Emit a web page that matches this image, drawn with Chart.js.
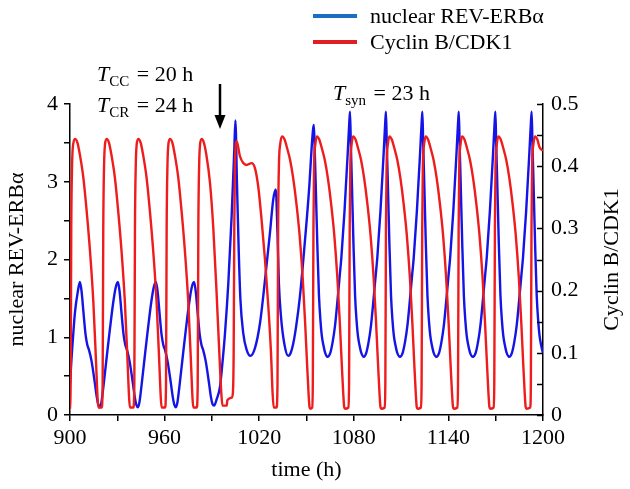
<!DOCTYPE html>
<html>
<head>
<meta charset="utf-8">
<script src="https://cdn.jsdelivr.net/npm/chart.js@4.4.1/dist/chart.umd.min.js"></script>
<style>
  html, body { margin: 0; padding: 0; background: #fff; }
  canvas { display: block; }
</style>
</head>
<body>
<canvas id="clockChart" width="630" height="489"></canvas>
<script>
// nuclear REV-ERBα (left axis), time in h
const revTime = [
  900, 901.1, 902.2, 903.2, 904.9, 906.3, 907.4, 908.5, 909.9, 911.0, 912.0, 913.7, 915.0, 915.9, 917.0, 918.0, 919.0, 920.0, 921.1, 923.2, 925.4, 927.5, 929.0,
  930.4, 931.5, 932.6, 934.0, 935.1, 936.1, 937.8, 939.1, 940.0, 941.1, 942.1, 943.1, 944.1, 945.2, 947.3, 949.5, 951.6, 953.1,
  954.5, 955.6, 956.7, 958.1, 959.2, 960.2, 961.9, 963.2, 964.1, 965.2, 966.2, 967.2, 968.2, 969.3, 971.4, 973.6, 975.7, 977.2,
  978.7, 979.8, 980.9, 982.3, 983.4, 984.4, 986.1, 987.4, 988.3, 989.4, 990.4, 991.4, 993.0, 995.1, 996.6, 998.3, 1000.4, 1002.5, 1004.2,
  1004.9, 1005.9, 1007.0, 1008.1, 1009.9, 1012.0, 1014.4, 1017.3, 1020.5, 1023.7, 1026.8, 1028.9,
  1030.5, 1031.6, 1032.5, 1033.8, 1035.9, 1038.4, 1040.0, 1041.6, 1043.5, 1045.8, 1048.0, 1050.1, 1051.8, 1053.3, 1054.2,
  1054.7, 1055.3, 1055.8, 1056.9, 1057.9, 1058.9, 1059.7, 1060.7, 1061.7, 1063.3,
  1065.1, 1066.6, 1068.1, 1069.6, 1071.1, 1072.1, 1074.1, 1076.1, 1077.1,
  1077.6, 1078.1, 1078.7, 1079.8, 1080.8, 1081.8, 1082.6, 1083.6, 1084.6, 1086.3,
  1087.9, 1089.4, 1090.9, 1092.4, 1093.9, 1094.9, 1096.9, 1098.9, 1099.9,
  1100.4, 1100.9, 1101.5, 1102.6, 1103.6, 1104.6, 1105.4, 1106.4, 1107.4, 1109.3,
  1111.0, 1112.5, 1114.0, 1115.5, 1117.0, 1118.0, 1120.0, 1122.0, 1123.0,
  1123.5, 1124.0, 1124.6, 1125.7, 1126.7, 1127.7, 1128.5, 1129.5, 1130.5, 1132.4,
  1134.1, 1135.6, 1137.1, 1138.6, 1140.1, 1141.1, 1143.1, 1145.1, 1146.1,
  1146.6, 1147.1, 1147.7, 1148.8, 1149.8, 1150.8, 1151.6, 1152.6, 1153.6, 1155.5,
  1157.3, 1158.8, 1160.3, 1161.8, 1163.3, 1164.3, 1166.3, 1168.3, 1169.3,
  1169.8, 1170.3, 1170.9, 1172.0, 1173.0, 1174.0, 1174.8, 1175.8, 1176.8, 1178.6,
  1180.3, 1181.8, 1183.3, 1184.8, 1186.3, 1187.3, 1189.3, 1191.3, 1192.3,
  1192.8, 1193.3, 1193.9, 1195.0, 1196.0, 1197.0, 1197.8, 1198.8, 1199.8, 1200
];
const revLevel = [
  0.40, 0.77, 1.08, 1.33, 1.58, 1.71, 1.58, 1.33, 1.03, 0.90, 0.84, 0.69, 0.52, 0.39, 0.23, 0.13, 0.10, 0.17, 0.35, 0.73, 1.12, 1.46, 1.64,
  1.71, 1.58, 1.33, 1.03, 0.90, 0.84, 0.69, 0.52, 0.39, 0.23, 0.13, 0.10, 0.17, 0.35, 0.73, 1.12, 1.46, 1.64,
  1.71, 1.58, 1.33, 1.03, 0.90, 0.84, 0.69, 0.52, 0.39, 0.23, 0.13, 0.10, 0.17, 0.35, 0.73, 1.12, 1.46, 1.64,
  1.71, 1.58, 1.33, 1.03, 0.90, 0.84, 0.69, 0.52, 0.39, 0.23, 0.14, 0.12, 0.20, 0.36, 0.65, 1.05, 1.69, 2.55, 3.41,
  3.79, 2.98, 2.12, 1.48, 1.05, 0.84, 0.76, 0.86, 1.18, 1.74, 2.34, 2.77,
  2.90, 2.34, 1.69, 1.27, 0.92, 0.76, 0.80, 0.92, 1.15, 1.52, 2.00, 2.50, 2.95, 3.45, 3.68,
  3.73, 3.35, 3.00, 2.17, 1.54, 1.20, 1.02, 0.90, 0.81, 0.75,
  0.80, 0.94, 1.15, 1.46, 1.80, 2.02, 2.62, 3.35, 3.75,
  3.90, 3.50, 3.05, 2.19, 1.54, 1.20, 1.02, 0.90, 0.81, 0.75,
  0.80, 0.94, 1.15, 1.46, 1.80, 2.02, 2.62, 3.35, 3.75,
  3.90, 3.50, 3.05, 2.19, 1.54, 1.20, 1.02, 0.90, 0.81, 0.75,
  0.80, 0.94, 1.15, 1.46, 1.80, 2.02, 2.62, 3.35, 3.75,
  3.90, 3.50, 3.05, 2.19, 1.54, 1.20, 1.02, 0.90, 0.81, 0.75,
  0.80, 0.94, 1.15, 1.46, 1.80, 2.02, 2.62, 3.35, 3.75,
  3.90, 3.50, 3.05, 2.19, 1.54, 1.20, 1.02, 0.90, 0.81, 0.75,
  0.80, 0.94, 1.15, 1.46, 1.80, 2.02, 2.62, 3.35, 3.75,
  3.90, 3.50, 3.05, 2.19, 1.54, 1.20, 1.02, 0.90, 0.81, 0.75,
  0.80, 0.94, 1.15, 1.46, 1.80, 2.02, 2.62, 3.35, 3.75,
  3.90, 3.50, 3.05, 2.19, 1.54, 1.20, 1.02, 0.90, 0.81, 0.80
];

// Cyclin B/CDK1 (right axis)
const cycTime = [
  900, 900.4, 900.8, 901.3, 902.0,
  903.2, 904.7, 906.3, 908.5, 910.6, 912.7, 914.8, 916.5, 917.5, 918.0, 920.1, 920.7, 921.1, 921.6, 922.2,
  923.2, 924.7, 926.3, 928.5, 930.6, 932.7, 934.8, 936.5, 937.5, 938.0, 940.2, 940.8, 941.2, 941.7, 942.3,
  943.3, 944.8, 946.4, 948.6, 950.7, 952.8, 954.9, 956.6, 957.6, 958.1, 960.3, 960.9, 961.3, 961.8, 962.4,
  963.4, 964.9, 966.5, 968.7, 970.8, 972.9, 975.0, 976.7, 977.7, 978.2, 980.4, 981.0, 981.4, 981.9, 982.5,
  983.5, 984.9, 986.5, 988.8, 990.9, 993.0, 995.1, 996.1, 996.7, 999.4, 999.8, 1002.6, 1003.3, 1003.8, 1004.2, 1004.6,
  1005.7, 1007.8, 1009.9, 1012.0, 1015.2, 1017.3, 1019.4, 1021.5, 1023.7, 1025.8, 1027.5, 1028.5, 1029.2, 1031.0, 1031.6, 1032.0, 1032.5, 1033.3,
  1034.6, 1036.1, 1037.6, 1039.6, 1041.6, 1043.6, 1045.6, 1047.6, 1049.1, 1050.4, 1051.3, 1051.9, 1052.4, 1053.6, 1054.0, 1054.4, 1054.8, 1055.6,
  1056.6, 1058.1, 1059.6, 1061.6, 1063.6, 1065.6, 1067.6, 1069.6, 1071.1, 1072.4, 1073.3, 1073.9, 1074.4, 1076.6, 1077.0, 1077.4, 1077.8, 1078.6,
  1079.6, 1081.1, 1082.6, 1084.6, 1086.6, 1088.6, 1090.6, 1092.6, 1094.1, 1095.4, 1096.3, 1096.9, 1097.4, 1099.6, 1100.0, 1100.4, 1100.8, 1101.6,
  1102.6, 1104.1, 1105.6, 1107.6, 1109.6, 1111.6, 1113.6, 1115.6, 1117.1, 1118.4, 1119.3, 1119.9, 1120.4, 1122.6, 1123.0, 1123.4, 1123.8, 1124.6,
  1125.6, 1127.1, 1128.6, 1130.6, 1132.6, 1134.6, 1136.6, 1138.6, 1140.1, 1141.4, 1142.3, 1142.9, 1143.4, 1145.7, 1146.1, 1146.5, 1146.9, 1147.7,
  1148.7, 1150.2, 1151.7, 1153.7, 1155.7, 1157.7, 1159.7, 1161.7, 1163.2, 1164.5, 1165.4, 1166.0, 1166.5, 1168.7, 1169.1, 1169.5, 1169.9, 1170.7,
  1171.7, 1173.2, 1174.7, 1176.7, 1178.7, 1180.7, 1182.7, 1184.7, 1186.2, 1187.5, 1188.4, 1189.0, 1189.5, 1191.9, 1192.3, 1192.7, 1193.1, 1193.9,
  1194.9, 1196.4, 1197.9, 1200
];
const cycLevel = [
  0.010, 0.050, 0.300, 0.400, 0.435,
  0.444, 0.438, 0.418, 0.381, 0.327, 0.263, 0.182, 0.086, 0.027, 0.012, 0.012, 0.050, 0.300, 0.400, 0.435,
  0.444, 0.438, 0.418, 0.381, 0.327, 0.263, 0.182, 0.086, 0.027, 0.012, 0.012, 0.050, 0.300, 0.400, 0.435,
  0.444, 0.438, 0.418, 0.381, 0.327, 0.263, 0.182, 0.086, 0.027, 0.012, 0.012, 0.050, 0.300, 0.400, 0.435,
  0.444, 0.438, 0.418, 0.381, 0.327, 0.263, 0.182, 0.086, 0.027, 0.012, 0.012, 0.050, 0.300, 0.400, 0.435,
  0.444, 0.438, 0.418, 0.373, 0.300, 0.195, 0.078, 0.030, 0.015, 0.015, 0.024, 0.028, 0.035, 0.100, 0.300, 0.400,
  0.440, 0.416, 0.405, 0.402, 0.405, 0.397, 0.367, 0.314, 0.249, 0.174, 0.099, 0.035, 0.012, 0.012, 0.050, 0.300, 0.400, 0.435,
  0.448, 0.443, 0.430, 0.410, 0.380, 0.340, 0.290, 0.220, 0.150, 0.080, 0.035, 0.013, 0.010, 0.012, 0.050, 0.300, 0.400, 0.435,
  0.448, 0.443, 0.430, 0.410, 0.380, 0.340, 0.290, 0.220, 0.150, 0.080, 0.035, 0.013, 0.010, 0.012, 0.050, 0.300, 0.400, 0.435,
  0.448, 0.443, 0.430, 0.410, 0.380, 0.340, 0.290, 0.220, 0.150, 0.080, 0.035, 0.013, 0.010, 0.012, 0.050, 0.300, 0.400, 0.435,
  0.448, 0.443, 0.430, 0.410, 0.380, 0.340, 0.290, 0.220, 0.150, 0.080, 0.035, 0.013, 0.010, 0.012, 0.050, 0.300, 0.400, 0.435,
  0.448, 0.443, 0.430, 0.410, 0.380, 0.340, 0.290, 0.220, 0.150, 0.080, 0.035, 0.013, 0.010, 0.012, 0.050, 0.300, 0.400, 0.435,
  0.448, 0.443, 0.430, 0.410, 0.380, 0.340, 0.290, 0.220, 0.150, 0.080, 0.035, 0.013, 0.010, 0.012, 0.050, 0.300, 0.400, 0.435,
  0.448, 0.443, 0.430, 0.410, 0.380, 0.340, 0.290, 0.220, 0.150, 0.080, 0.035, 0.013, 0.010, 0.012, 0.050, 0.300, 0.400, 0.435,
  0.448, 0.443, 0.430, 0.425
];

const seriesNames = ["nuclear REV-ERBα", "Cyclin B/CDK1"];
const lineColors = ["#1414e6", "#ee1c1c"];
const legendColors = ["#1a6fc4", "#e01e24"];

const FONT = "'Liberation Serif', 'Times New Roman', serif";
Chart.defaults.font.family = FONT;
Chart.defaults.color = "#000";

const toPoints = (xs, ys) => xs.map((x, i) => ({ x, y: ys[i] }));

// legend, period labels, arrow, inward ticks on the right axis
const extras = {
  id: "extras",
  afterDraw(chart) {
    const c = chart.ctx;
    const area = chart.chartArea;
    c.save();

    // right axis inward ticks
    const yr = chart.scales.yCyc;
    c.strokeStyle = "#000";
    c.lineWidth = 1.5;
    yr.ticks.forEach(t => {
      const py = Math.round(yr.getPixelForValue(t.value)) + 0.5;
      c.beginPath();
      c.moveTo(area.right - 6, py);
      c.lineTo(area.right, py);
      c.stroke();
    });

    // right axis title
    c.save();
    c.translate(612, (area.top + area.bottom) / 2);
    c.rotate(-Math.PI / 2);
    c.font = "22px " + FONT;
    c.fillStyle = "#000";
    c.textAlign = "center";
    c.textBaseline = "middle";
    c.fillText("Cyclin B/CDK1", 0, 0);
    c.restore();

    // legend
    c.font = "22px " + FONT;
    c.textBaseline = "middle";
    c.textAlign = "left";
    [16, 42].forEach((ly, i) => {
      c.strokeStyle = legendColors[i];
      c.lineWidth = 4;
      c.beginPath();
      c.moveTo(313, ly);
      c.lineTo(357, ly);
      c.stroke();
      c.fillStyle = "#000";
      c.fillText(seriesNames[i], 370, ly + 1);
    });

    // period annotations
    const periodLabel = (x, y, sub, rest) => {
      c.textBaseline = "alphabetic";
      c.font = "italic 22px " + FONT;
      c.fillText("T", x, y);
      let w = c.measureText("T").width;
      c.font = "15px " + FONT;
      c.fillText(sub, x + w, y + 5);
      w += c.measureText(sub).width;
      c.font = "22px " + FONT;
      c.fillText(rest, x + w + 2, y);
    };
    c.fillStyle = "#000";
    periodLabel(97, 81, "CC", " = 20 h");
    periodLabel(97, 112, "CR", " = 24 h");
    periodLabel(333, 100, "syn", " = 23 h");

    // arrow
    c.strokeStyle = "#000";
    c.lineWidth = 2.5;
    c.beginPath();
    c.moveTo(220, 84);
    c.lineTo(220, 118);
    c.stroke();
    c.beginPath();
    c.moveTo(214.5, 115);
    c.lineTo(225.5, 115);
    c.lineTo(220, 129);
    c.closePath();
    c.fillStyle = "#000";
    c.fill();

    c.restore();
  }
};

const axisGrid = {
  drawOnChartArea: false,
  color: "#000",
  lineWidth: 1.5,
  tickLength: 6,
  tickColor: "#000",
  tickWidth: 1.5
};

new Chart(document.getElementById("clockChart"), {
  type: "line",
  data: {
    datasets: [
      {
        label: seriesNames[0],
        data: toPoints(revTime, revLevel),
        yAxisID: "yRev",
        borderColor: lineColors[0],
        borderWidth: 2.4,
        pointRadius: 0,
        cubicInterpolationMode: "monotone",
        order: 1
      },
      {
        label: seriesNames[1],
        data: toPoints(cycTime, cycLevel),
        yAxisID: "yCyc",
        borderColor: lineColors[1],
        borderWidth: 2.4,
        pointRadius: 0,
        cubicInterpolationMode: "monotone",
        order: 0
      }
    ]
  },
  options: {
    responsive: false,
    animation: false,
    layout: { padding: { top: 104, left: 0, right: 0, bottom: 0 } },
    plugins: { legend: { display: false }, tooltip: { enabled: false } },
    scales: {
      x: {
        type: "linear",
        min: 900,
        max: 1200,
        afterFit: s => { s.height = 74; },
        border: { color: "#000", width: 1.5 },
        grid: axisGrid,
        ticks: {
          stepSize: 30,
          autoSkip: false,
          maxRotation: 0,
          padding: 4,
          font: { size: 22 },
          callback: v => (v % 60 === 0 ? String(v) : "")
        },
        title: { display: true, text: "time (h)", font: { size: 22 }, padding: { top: 0, bottom: 6 } }
      },
      yRev: {
        position: "left",
        min: 0,
        max: 4,
        afterFit: s => { s.width = 70; },
        border: { color: "#000", width: 1.5 },
        grid: axisGrid,
        ticks: {
          stepSize: 0.5,
          autoSkip: false,
          padding: 6,
          font: { size: 22 },
          callback: v => (Number.isInteger(v) ? String(v) : "")
        },
        title: { display: true, text: "nuclear REV-ERBα", font: { size: 22 }, padding: { top: 4, bottom: 0 } }
      },
      yCyc: {
        position: "right",
        min: 0,
        max: 0.5,
        afterFit: s => { s.width = 87; },
        border: { color: "#000", width: 1.5 },
        grid: { drawOnChartArea: false, drawTicks: false },
        ticks: {
          stepSize: 0.05,
          autoSkip: false,
          padding: 8,
          font: { size: 22 },
          callback: v => {
            const r = Math.round(v * 100);
            if (r % 10 !== 0) return "";
            return r === 0 ? "0" : (r / 100).toFixed(1);
          }
        }
      }
    }
  },
  plugins: [extras]
});
</script>
</body>
</html>
